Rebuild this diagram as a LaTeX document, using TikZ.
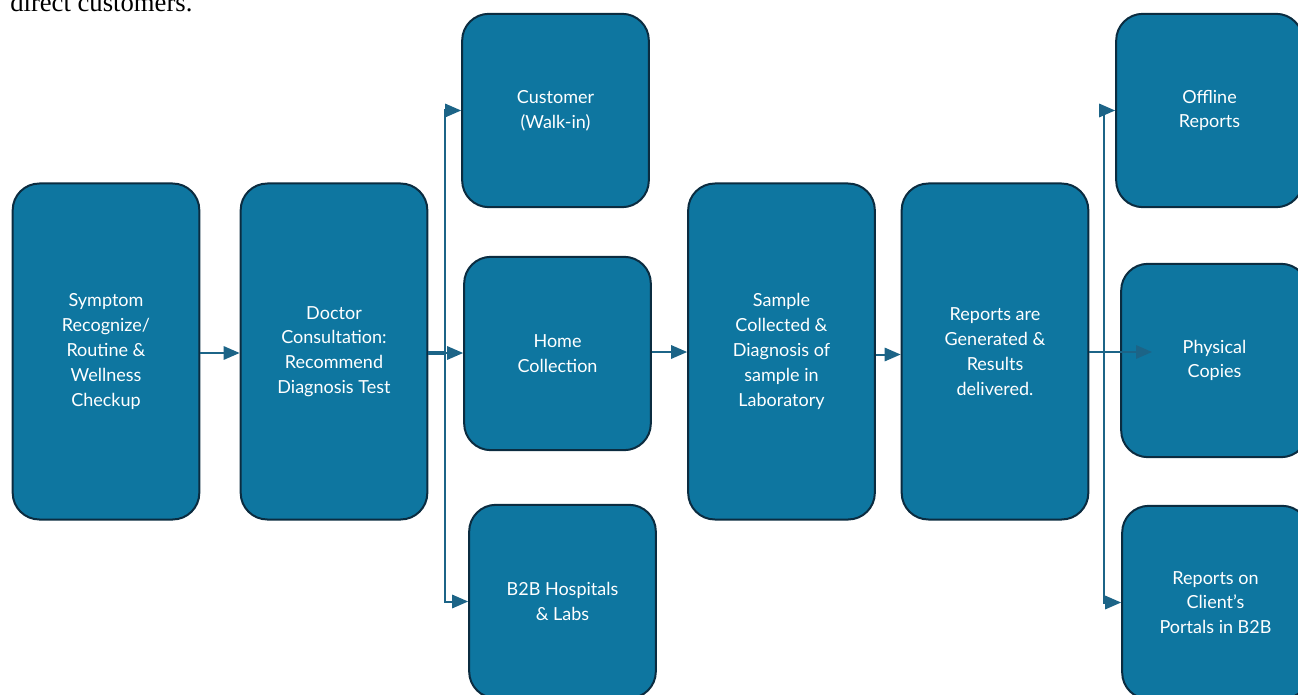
\documentclass[tikz,border=0pt]{standalone}
\usepackage{fontspec}
\setmainfont{Lato}
\newfontfamily\notefont{Liberation Serif}
\usetikzlibrary{arrows.meta, positioning, calc}
\definecolor{boxfill}{HTML}{0E76A0}
\definecolor{boxline}{HTML}{0B2C40}
\definecolor{flowblue}{HTML}{1C6487}
\tikzset{
  stage/.style={
    rectangle, draw=boxline, fill=boxfill, line width=1.5pt, rounded corners=20pt,
    minimum width=140pt, minimum height=252pt,
    align=center, text=white, font=\fontsize{13.5}{18.6}\selectfont, inner sep=2pt,
  },
  option/.style={stage, minimum height=145pt},
  flow/.style={
    -{Triangle[length=12pt, width=10pt]}, line width=1.5pt, draw=flowblue,
  },
  trunk/.style={line width=2.6pt, draw=flowblue},
  note/.style={font=\notefont\fontsize{20}{24}\selectfont, anchor=base west, inner sep=0pt},
}
\begin{document}
\begin{tikzpicture}[x=0.75pt, y=-0.75pt]

  \clip (0,0) rectangle (1298,695);

  % leftover caption line above the chart
  \node[note] (caption) at (10,12) {direct customers.};

  % main flow
  \node[stage] (symptom) at (106,351.5) {Symptom\\Recognize/\\Routine \&\\Wellness\\Checkup};
  \node[stage] (doctor)  at (334,351.5) {Doctor\\Consultation:\\Recommend\\Diagnosis Test};
  \node[stage] (sample)  at (781.5,351.5) {Sample\\Collected \&\\Diagnosis of\\sample in\\Laboratory};
  \node[stage] (reports) at (995,351.5) {Reports are\\Generated \&\\Results\\delivered.};

  % collection channels
  \node[option] (walkin) at (555.5,110.5) {Customer\\(Walk-in)};
  \node[option] (home)   at (557.5,353.5) {Home\\Collection};
  \node[option] (btob)   at (562.5,601.5) {B2B Hospitals\\\& Labs};

  % delivery channels
  \node[option] (offline)  at (1209.5,110.5) {Offline\\Reports};
  \node[option] (physical) at (1214.5,360.5) {Physical\\Copies};
  \node[option] (portal)   at (1215.5,602.5) {Reports on\\Client’s\\Portals in B2B};

  \coordinate (fork1) at (445,353);
  \coordinate (fork2) at (1104,352);
  \coordinate (physin) at (1152,352);

  \draw[flow] (symptom.east |- fork1) -- (doctor.west |- fork1);
  \draw[trunk] (doctor.east |- fork1) -- (fork1);
  \draw[flow] (fork1) -- (home.west |- fork1);
  \draw[flow] (fork1) |- (walkin.west);
  \draw[flow] (fork1) |- (btob.west);

  \draw[flow] (home.east |- fork2) -- (sample.west |- fork2);
  \draw[flow] (sample.east) ++(0,3) -- (reports.west |- 0,354.5);

  \draw[flow] (reports.east |- fork2) -- (physin);
  \draw[flow] (fork2) |- (offline.west);
  \draw[flow] (fork2) |- (portal.west);

\end{tikzpicture}
\end{document}
